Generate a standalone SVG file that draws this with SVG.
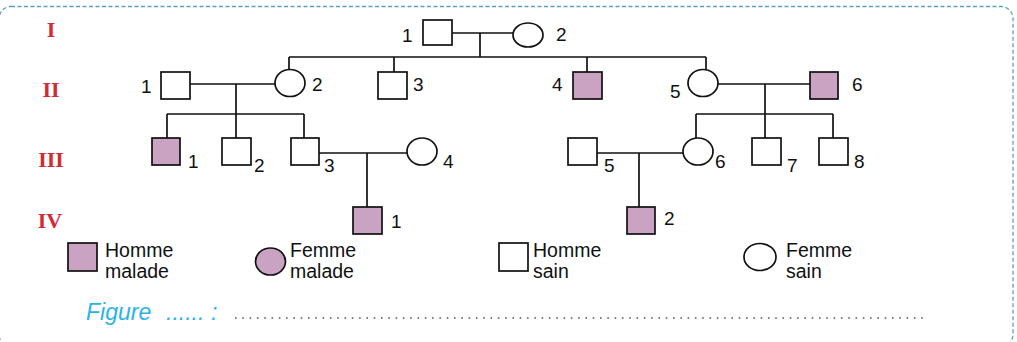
<svg xmlns="http://www.w3.org/2000/svg" width="1017" height="342" viewBox="0 0 1017 342">
<style>
.m{fill:#fff;stroke:#111;stroke-width:1.7}
.a{fill:#c9a3c1;stroke:#111;stroke-width:1.7}
.ln{stroke:#111;stroke-width:1.7;fill:none}
.n{font-family:"Liberation Sans",Arial,sans-serif;font-size:19px;fill:#111}
.lg{font-family:"Liberation Sans",Arial,sans-serif;font-size:19.5px;fill:#111}
.g{font-family:"Liberation Serif","Times New Roman",serif;font-size:22px;font-weight:bold;fill:#d42a35;text-anchor:middle}
.cap{font-family:"Liberation Sans",Arial,sans-serif;font-size:23px;font-style:italic;fill:#2ab4e6}
</style>
<rect x="-1" y="6.5" width="1014" height="340" rx="12" fill="none" stroke="#5a9fc5" stroke-width="1.3" stroke-dasharray="4 2.5"/>
<g id="gen-labels">
<text class="g" x="51" y="37">I</text>
<text class="g" x="51" y="97">II</text>
<text class="g" x="51" y="167">III</text>
<text class="g" x="50" y="228">IV</text>
</g>
<g id="connectors">
<path class="ln" d="M452 33H513M480 33V57M289 57H706M289 57V69M394 57V72M587 57V72M706 57V69"/>
<path class="ln" d="M190 84H275M236 84V114M167 114H304M167 114V138M236 114V138M304 114V138"/>
<path class="ln" d="M718 84H810M765 84V114M696 114H833M696 114V138M765 114V138M833 114V138"/>
<path class="ln" d="M319 153H407M367 153V207"/>
<path class="ln" d="M597 153H683M639 153V207"/>
</g>
<g id="I1"><rect class="m" x="423" y="20" width="29" height="25"/><text class="n" x="402" y="42">1</text></g>
<g id="I2"><ellipse class="m" cx="528" cy="35" rx="15" ry="12"/><text class="n" x="556" y="41">2</text></g>
<g id="II1"><rect class="m" x="161" y="72" width="29" height="27"/><text class="n" x="141" y="93">1</text></g>
<g id="II2"><ellipse class="m" cx="290" cy="83" rx="15" ry="13.5"/><text class="n" x="312" y="91">2</text></g>
<g id="II3"><rect class="m" x="378" y="72" width="29" height="27"/><text class="n" x="413" y="91">3</text></g>
<g id="II4"><rect class="a" x="573" y="72" width="29" height="27"/><text class="n" x="552" y="91">4</text></g>
<g id="II5"><ellipse class="m" cx="703" cy="83" rx="15" ry="13.5"/><text class="n" x="670" y="98">5</text></g>
<g id="II6"><rect class="a" x="810" y="72" width="28" height="27"/><text class="n" x="852" y="91">6</text></g>
<g id="III1"><rect class="a" x="152" y="138" width="28" height="27"/><text class="n" x="188" y="168">1</text></g>
<g id="III2"><rect class="m" x="222" y="138" width="29" height="27"/><text class="n" x="254" y="172">2</text></g>
<g id="III3"><rect class="m" x="291" y="138" width="28" height="27"/><text class="n" x="324" y="172">3</text></g>
<g id="III4"><ellipse class="m" cx="422" cy="151.5" rx="15" ry="13.5"/><text class="n" x="443" y="168">4</text></g>
<g id="III5"><rect class="m" x="568" y="138" width="29" height="27"/><text class="n" x="604" y="172">5</text></g>
<g id="III6"><ellipse class="m" cx="698" cy="151.5" rx="15" ry="13.5"/><text class="n" x="715" y="168">6</text></g>
<g id="III7"><rect class="m" x="752" y="138" width="29" height="27"/><text class="n" x="787" y="172">7</text></g>
<g id="III8"><rect class="m" x="819" y="138" width="29" height="27"/><text class="n" x="854" y="168">8</text></g>
<g id="IV1"><rect class="a" x="353" y="207" width="29" height="27"/><text class="n" x="391" y="228">1</text></g>
<g id="IV2"><rect class="a" x="627" y="207" width="28" height="27"/><text class="n" x="664" y="225">2</text></g>
<g id="legend">
<rect class="a" x="68" y="243" width="29" height="28"/>
<text class="lg" x="105" y="257">Homme</text><text class="lg" x="105" y="277.5">malade</text>
<ellipse class="a" cx="270.5" cy="261.5" rx="15" ry="13.5"/>
<text class="lg" x="290" y="256.5">Femme</text><text class="lg" x="290" y="277.5">malade</text>
<rect class="m" x="499" y="243" width="29" height="28"/>
<text class="lg" x="533" y="257">Homme</text><text class="lg" x="533" y="277.5">sain</text>
<ellipse class="m" cx="760" cy="257" rx="16" ry="13.5"/>
<text class="lg" x="786" y="257">Femme</text><text class="lg" x="786" y="277.5">sain</text>
</g>
<g id="caption">
<text class="cap" x="86" y="320">Figure</text>
<text class="cap" x="166" y="320">......</text>
<text class="cap" x="211" y="320">:</text>
<line x1="235" y1="318" x2="926" y2="318" stroke="#555" stroke-width="1.6" stroke-dasharray="1.6 5.7"/>
</g>
</svg>
